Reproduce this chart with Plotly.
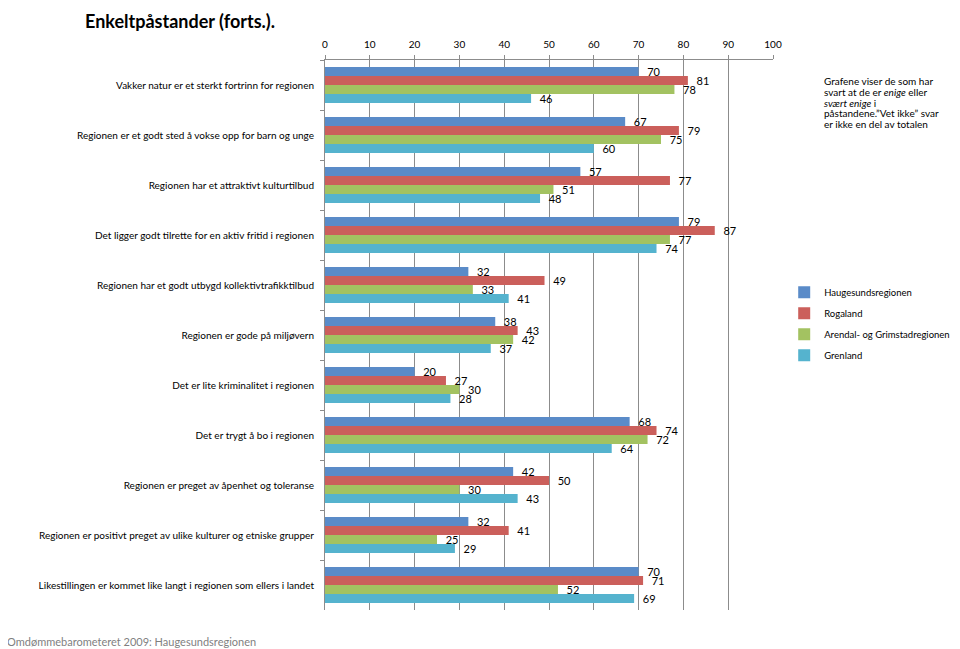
import plotly.graph_objects as go

categories = [
    "Vakker natur er et sterkt fortrinn for regionen",
    "Regionen er et godt sted å vokse opp for barn og unge",
    "Regionen har et attraktivt kulturtilbud",
    "Det ligger godt tilrette for en aktiv fritid i regionen",
    "Regionen har et godt utbygd kollektivtrafikktilbud",
    "Regionen er gode på miljøvern",
    "Det er lite kriminalitet i regionen",
    "Det er trygt å bo i regionen",
    "Regionen er preget av åpenhet og toleranse",
    "Regionen er positivt preget av ulike kulturer og etniske grupper",
    "Likestillingen er kommet like langt i regionen som ellers i landet",
]
haugesund = [70, 67, 57, 79, 32, 38, 20, 68, 42, 32, 70]
rogaland = [81, 79, 77, 87, 49, 43, 27, 74, 50, 41, 71]
arendal = [78, 75, 51, 77, 33, 42, 30, 72, 30, 25, 52]
grenland = [46, 60, 48, 74, 41, 37, 28, 64, 43, 29, 69]

series = [
    ("Haugesundsregionen", haugesund, "#5A8BC8"),
    ("Rogaland", rogaland, "#CB5F5B"),
    ("Arendal- og Grimstadregionen", arendal, "#A3C261"),
    ("Grenland", grenland, "#55B3CE"),
]

FONT = "Lato"

fig = go.Figure()
for i, (name, vals, col) in enumerate(series):
    fig.add_trace(go.Bar(
        y=categories, x=vals, name=name, orientation="h",
        marker=dict(color=col, line=dict(width=0)),
        text=vals, texttemplate="\u00a0\u00a0%{x}", textposition="outside",
        textfont=dict(family=FONT, size=11, color="#000000"),
        constraintext="none", cliponaxis=False,
        legendgroup=name,
    ))

# page body has an 8px margin, so the figure is drawn at (8, 8)
fig.update_layout(
    width=952, height=641, autosize=False,
    margin=dict(l=317, r=187, t=52, b=39, autoexpand=False),
    paper_bgcolor="white", plot_bgcolor="white",
    barmode="group", bargap=0.28, bargroupgap=0,
    font=dict(family=FONT, size=11, color="#000000"),
    showlegend=True,
    legend=dict(x=1.025, y=0.604, xanchor="left", yanchor="top",
                font=dict(family=FONT, size=9.5, color="#000000"),
                traceorder="grouped", tracegroupgap=2,
                bgcolor="rgba(0,0,0,0)", itemwidth=30),
    xaxis=dict(side="top", range=[0, 100], dtick=10, tick0=0,
               showgrid=True, gridcolor="#8C8C8C", gridwidth=1,
               showline=True, linecolor="#8C8C8C", linewidth=1,
               ticks="outside", ticklen=4, tickcolor="#8C8C8C",
               ticklabelstandoff=3, automargin=False,
               tickfont=dict(family=FONT, size=10, color="#000000"),
               zeroline=False, fixedrange=True),
    yaxis=dict(autorange="reversed", type="category",
               showline=True, linecolor="#8C8C8C", linewidth=1,
               ticks="outside", ticklen=4, tickcolor="#8C8C8C",
               tickson="boundaries", ticklabelstandoff=8, automargin=False,
               tickfont=dict(family=FONT, size=10, color="#000000"),
               showgrid=False, fixedrange=True),
)

annotations = [
    dict(text="<b>Enkeltpåstander (forts.).</b>", x=-0.540, y=1.0945,
         xanchor="left", yanchor="top",
         font=dict(family=FONT, size=18, color="#000000")),
    dict(text="Omdømmebarometeret 2009: Haugesundsregionen", x=-0.714, y=-0.0564,
         xanchor="left", yanchor="middle",
         font=dict(family=FONT, size=11, color="#7F7F7F")),
]
note_lines = [
    "Grafene viser de som har",
    "svart at de er <i>enige</i> eller",
    "<i>svært enige</i> i",
    "påstandene.”Vet ikke” svar",
    "er ikke en del av totalen",
]
note_y = [0.9615, 0.9415, 0.9215, 0.9035, 0.8835]
for t, yy in zip(note_lines, note_y):
    annotations.append(dict(text=t, x=1.109, y=yy, xanchor="left", yanchor="middle",
                            font=dict(family=FONT, size=10, color="#000000")))
for a in annotations:
    a.update(xref="paper", yref="paper", showarrow=False)
fig.update_layout(annotations=annotations)

fig.write_html("out.html")
